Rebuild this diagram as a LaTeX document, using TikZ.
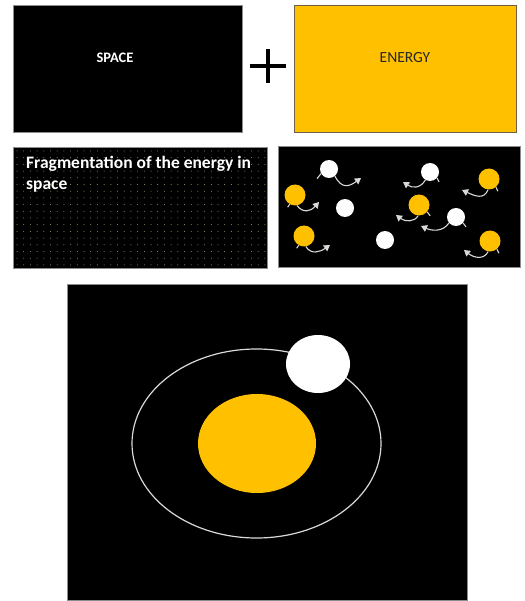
\documentclass[tikz,border=0pt]{standalone}
\usepackage{fontspec}
\setmainfont{Carlito}
\usetikzlibrary{shapes.geometric,arrows.meta}
\definecolor{gold}{HTML}{FFC000}
\definecolor{frame}{HTML}{8C8C8C}
\definecolor{goldframe}{HTML}{6E6040}
\definecolor{wave}{HTML}{D9D9D9}
\definecolor{dotc}{HTML}{A89C74}
\tikzset{
  panel/.style={draw=frame, line width=1pt, fill=black},
  wball/.style={circle, fill=white, draw=none, inner sep=0pt, minimum size=18pt},
  yball/.style={circle, fill=gold, draw=none, inner sep=0pt, minimum size=21pt},
  wv/.style={draw=wave, line width=1.1pt, -{Triangle[width=7pt,length=6pt]}},
  tl/.style={draw=wave, line width=1.1pt},
  lbl/.style={inner sep=0pt}
}
\begin{document}
\begin{tikzpicture}[x=1pt,y=-1pt]
\useasboundingbox[fill=white] (0,0) rectangle (524,601);
% top row
\node[panel, minimum width=229pt, minimum height=127pt, anchor=north west] (space) at (13,5) {};
\node[lbl, text=white, font=\fontsize{14.5}{16}\selectfont\bfseries] (spacet) at (115,58) {SPACE};
\node[draw=goldframe, line width=1pt, fill=gold, minimum width=222pt, minimum height=127pt, anchor=north west] (energy) at (294,5) {};
\node[lbl, text=black!85, font=\fontsize{15.5}{17}\selectfont] (energyt) at (405,58) {ENERGY};
\coordinate (plusc) at (268,66);
\draw[line width=4.5pt] (250,66) -- (286,66);
\draw[line width=4.5pt] (268,49) -- (268,83);
% middle left
\node[panel, minimum width=254pt, minimum height=121pt, anchor=north west] (frag) at (13,147) {};
\foreach \i in {0,...,37} {
  \foreach \j in {0,...,17} {
    \fill[dotc] (17+\i*6.7, 151+\j*6.7) circle (0.5pt);
  }
}
\node[anchor=north west, text=white, align=left, inner sep=0pt,
      font=\fontsize{17.5}{21}\selectfont\bfseries] (fragt) at (26,156) {Fragmentation of the energy in\\space};
% middle right
\node[panel, minimum width=242pt, minimum height=121pt, anchor=north west] (parts) at (278,146) {};
\node[wball] (w1) at (329,169) {};
\node[yball] (y1) at (295,195) {};
\node[wball] (w2) at (345,208) {};
\node[yball] (y2) at (304,236) {};
\node[wball] (w3) at (385,240) {};
\node[wball] (w4) at (430,172) {};
\node[yball] (y3) at (489,179) {};
\node[yball] (y4) at (419,205) {};
\node[wball] (w5) at (456,217) {};
\node[yball] (y5) at (490,241) {};
\coordinate (a1) at (361,178);
\coordinate (a2) at (319,202);
\coordinate (a3) at (330,245);
\coordinate (a4) at (403,182);
\coordinate (a5) at (462,190);
\coordinate (a6) at (396,215);
\coordinate (a7) at (421,226);
\coordinate (a8) at (464,250);
\draw[wv] (w1.-50) .. controls (342,190) and (350,186) .. (a1);
\draw[wv] (y1.-80) .. controls (303,213) and (310,212) .. (a2);
\draw[wv] (y2.-80) .. controls (311,255) and (320,252) .. (a3);
\draw[wv] (w4.-120) .. controls (420,189) and (412,188) .. (a4);
\draw[wv] (y3.-95) .. controls (484,200) and (475,196) .. (a5);
\draw[wv] (y4.-95) .. controls (415,222) and (405,222) .. (a6);
\draw[wv] (w5.-140) .. controls (443,232) and (432,231) .. (a7);
\draw[wv] (y5.-100) .. controls (484,260) and (474,258) .. (a8);
\draw[tl] (w1.-150) -- ++(-4,5);
\draw[tl] (y1.-120) -- ++(-2,3);
\draw[tl] (y2.-120) -- ++(-2,3);
\draw[tl] (w4.-40) -- ++(2,4);
\draw[tl] (y3.-50) -- ++(2,4);
\draw[tl] (y4.-40) -- ++(3,4);
\draw[tl] (w5.-40) -- ++(3,4);
\draw[tl] (y5.-50) -- ++(2,4);
% bottom
\node[panel, minimum width=400pt, minimum height=316pt, anchor=north west] (orbitbox) at (67,284) {};
\node[ellipse, draw=white!85!black, line width=1.2pt, minimum width=249pt, minimum height=189pt, inner sep=0pt] (orbit) at (256.5,443.5) {};
\node[ellipse, fill=gold, minimum width=118pt, minimum height=99pt, inner sep=0pt] (sun) at (257,443.5) {};
\node[ellipse, fill=white, minimum width=64pt, minimum height=58pt, inner sep=0pt] (planet) at (318,364) {};
\end{tikzpicture}
\end{document}
